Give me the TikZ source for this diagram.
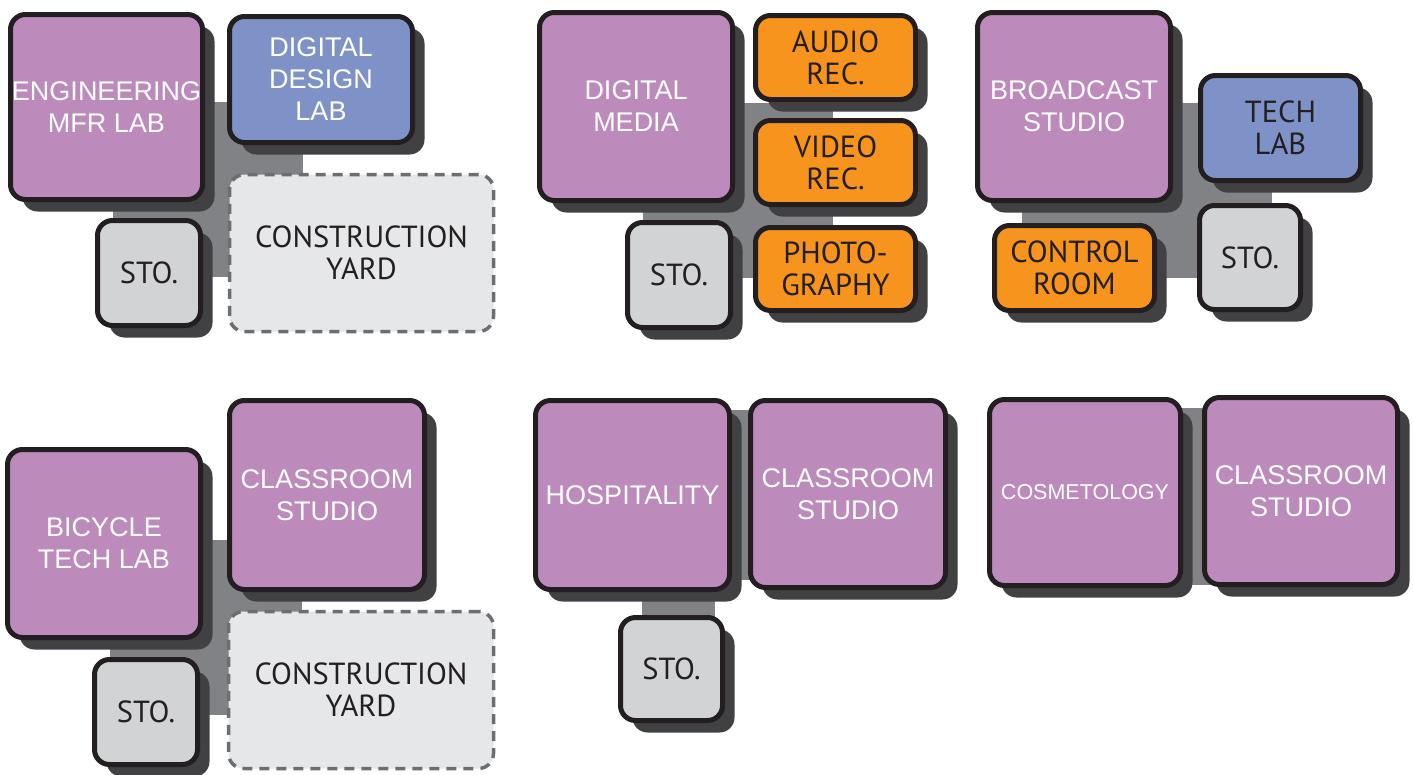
\documentclass[tikz,border=0pt]{standalone}
\usepackage{fontspec}
\setmainfont{Liberation Sans}
\newfontfamily\darkfont{PT Sans}
\usetikzlibrary{shadows,positioning}
\definecolor{roompurple}{HTML}{BC8BBC}
\definecolor{labblue}{HTML}{7F92C8}
\definecolor{mediaorange}{HTML}{F7941E}
\definecolor{storegray}{HTML}{D1D3D4}
\definecolor{yardgray}{HTML}{E6E7E8}
\definecolor{hubgray}{HTML}{808285}
\definecolor{shadowgray}{HTML}{414042}
\definecolor{edgeblack}{HTML}{231F20}

\begin{document}
\begin{tikzpicture}[x=1pt,y=-1pt,
  room/.style={rectangle,rounded corners=15pt,draw=edgeblack,line width=5pt,inner sep=0pt,align=center,
    drop shadow={shadow xshift=12pt,shadow yshift=-12pt,fill=shadowgray,opacity=1}},
  sz/.style 2 args={minimum width=#1pt,minimum height=#2pt},
  studio/.style={room,fill=roompurple,text=white,font=\fontsize{27}{32}\selectfont},
  lab/.style={room,fill=labblue,font=\fontsize{27}{32}\selectfont},
  media/.style={room,fill=mediaorange,text=edgeblack,font=\darkfont\fontsize{30.5}{32}\selectfont},
  store/.style={room,fill=storegray,text=edgeblack,font=\darkfont\fontsize{30.5}{32}\selectfont},
  yard/.style={rectangle,rounded corners=15pt,draw=hubgray!85!black,line width=3.5pt,dash pattern=on 10pt off 7pt,
    fill=yardgray,text=edgeblack,align=center,inner sep=0pt,font=\darkfont\fontsize{30.5}{32}\selectfont},
  hub/.style={fill=hubgray}
]
\useasboundingbox (0,0) rectangle (1413,774);
\fill[hub] (113,102) rectangle (303,277); \fill[hub] (643,103) rectangle (833,278);
\fill[hub] (1022,103) rectangle (1272,278); \fill[hub] (110,540) rectangle (302,715);
\fill[hub] (700,410) rectangle (760,580); \fill[hub] (642,560) rectangle (715,620);
\fill[hub] (1150,408) rectangle (1220,585);

\node[studio,sz={192}{185}] (engmfr) at (106.5,107) {ENGINEERING\\MFR LAB};
\node[lab,text=white,sz={183}{126}] (ddlab) at (321,79.5) {DIGITAL\\DESIGN\\LAB};
\node[store,sz={103}{105}] (stoa) at (149,273) {STO.};
\node[yard,sz={264}{157}] (yarda) at (361.5,253) {CONSTRUCTION\\YARD};

\node[studio,sz={193}{188}] (dmedia) at (636,106.5) {DIGITAL\\MEDIA};
\node[media,sz={160}{84}] (audio) at (835.5,57.5) {AUDIO\\REC.};
\node[media,sz={160}{84}] (video) at (835.5,162.5) {VIDEO\\REC.};
\node[media,sz={160}{83}] (photo) at (835.5,269) {PHOTO-\\GRAPHY};
\node[store,sz={103}{105}] (stob) at (679,275) {STO.};

\node[studio,sz={193}{188}] (broad) at (1074,106.5) {BROADCAST\\STUDIO};
\node[lab,text=edgeblack,font=\darkfont\fontsize{30.5}{32}\selectfont,sz={160}{105}] (techlab) at (1280.5,128) {TECH\\LAB};
\node[media,sz={160}{85}] (control) at (1074.5,268) {CONTROL\\ROOM};
\node[store,sz={101}{104}] (stoc) at (1250,257.5) {STO.};

\node[studio,sz={193}{188}] (bike) at (104,543.5) {BICYCLE\\TECH LAB};
\node[studio,sz={195}{189}] (classa) at (327,495) {CLASSROOM\\STUDIO};
\node[store,sz={103}{105}] (stod) at (146,712) {STO.};
\node[yard,sz={265}{157}] (yardb) at (361,690) {CONSTRUCTION\\YARD};

\node[studio,sz={194}{189}] (hosp) at (632.5,495) {HOSPITALITY};
\node[studio,sz={195}{187}] (classb) at (848,494) {CLASSROOM\\STUDIO};
\node[store,sz={102}{103}] (stoe) at (671.5,669) {STO.};

\node[studio,font=\fontsize{21.5}{26}\selectfont,sz={191}{186}] (cosmo) at (1085,492.5) {COSMETOLOGY};
\node[studio,sz={193}{187}] (classc) at (1301,491) {CLASSROOM\\STUDIO};
\end{tikzpicture}
\end{document}
